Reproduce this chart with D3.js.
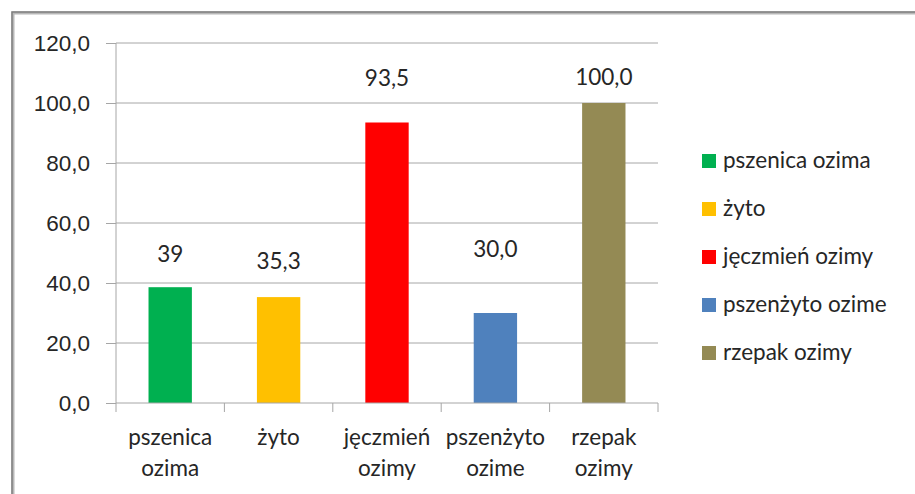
<!DOCTYPE html>
<html>
<head>
<meta charset="utf-8">
<script src="https://cdn.jsdelivr.net/npm/d3@7"></script>
<style>
  html, body { margin: 0; padding: 0; background: #fff; overflow: hidden; }
  svg { display: block; font-family: Lato, 'Open Sans', sans-serif; }
  .axis text { fill: #262626; font-size: 22.5px; }
  .axis path, .axis line { stroke: #a6a6a6; }
</style>
</head>
<body>
<div id="chart"></div>
<script>
const categories = ['pszenica ozima', 'żyto', 'jęczmień ozimy', 'pszenżyto ozime', 'rzepak ozimy'];
const values = [38.6, 35.3, 93.5, 30.0, 100.0];
const valueLabels = ['39', '35,3', '93,5', '30,0', '100,0'];
const yTicks = [0, 20, 40, 60, 80, 100, 120];
const colors = ['#00b050', '#ffc000', '#ff0000', '#4f81bd', '#948a54'];

// labels were hand-placed in the original, so each gets its own lift above the bar
const labelLift = [25, 28, 37, 56, 18];

const width = 915;
const height = 494;
const margin = { top: 43, left: 116, right: 257, bottom: 91 };
const innerWidth = width - margin.left - margin.right;
const innerHeight = height - margin.top - margin.bottom;

const svg = d3.select('#chart')
  .append('svg')
  .attr('width', width)
  .attr('height', height)
  .attr('viewBox', `0 0 ${width} ${height}`);

// frame of the chart object: only its left and top edges are in view
svg.append('path')
  .attr('d', `M13,${height} V13 H${width}`)
  .attr('fill', 'none')
  .attr('stroke', '#b8b8b8')
  .attr('stroke-width', 3);
svg.append('path')
  .attr('d', `M12,${height} V12 H${width}`)
  .attr('fill', 'none')
  .attr('stroke', '#7f7f7f')
  .attr('stroke-width', 1.5);

const g = svg.append('g')
  .attr('transform', `translate(${margin.left}, ${margin.top})`);

const x = d3.scaleBand()
  .domain(categories)
  .range([0, innerWidth])
  .paddingInner(0.6)
  .paddingOuter(0.3);

const y = d3.scaleLinear().domain([0, 120]).range([innerHeight, 0]);

const fmt = d => d.toFixed(1).replace('.', ',');

g.append('g')
  .attr('class', 'grid')
  .selectAll('line')
  .data(yTicks.filter(d => d > 0))
  .join('line')
  .attr('x1', 0)
  .attr('x2', innerWidth)
  .attr('y1', d => y(d))
  .attr('y2', d => y(d))
  .attr('stroke', '#a6a6a6');

const yAxis = g.append('g')
  .attr('class', 'axis')
  .call(d3.axisLeft(y).tickValues(yTicks).tickSize(10).tickPadding(16).tickFormat(fmt));
yAxis.select('.domain').remove();
yAxis.append('line')
  .attr('y1', 0)
  .attr('y2', innerHeight)
  .attr('stroke', '#a6a6a6');

g.selectAll('rect.bar')
  .data(values)
  .join('rect')
  .attr('class', 'bar')
  .attr('x', (d, i) => x(categories[i]))
  .attr('width', x.bandwidth())
  .attr('y', d => y(d))
  .attr('height', d => innerHeight - y(d))
  .attr('fill', (d, i) => colors[i]);

// x axis with ticks between the categories
const xAxis = g.append('g')
  .attr('class', 'axis')
  .attr('transform', `translate(0, ${innerHeight})`);
xAxis.append('line')
  .attr('x1', 0)
  .attr('x2', innerWidth)
  .attr('stroke', '#a6a6a6');
xAxis.selectAll('line.tick')
  .data(d3.range(categories.length + 1))
  .join('line')
  .attr('class', 'tick')
  .attr('x1', i => i * innerWidth / categories.length)
  .attr('x2', i => i * innerWidth / categories.length)
  .attr('y1', 0)
  .attr('y2', 9)
  .attr('stroke', '#a6a6a6');

const xLabels = xAxis.selectAll('text')
  .data(categories)
  .join('text')
  .attr('text-anchor', 'middle')
  .attr('x', d => x(d) + x.bandwidth() / 2)
  .attr('y', 42);
xLabels.selectAll('tspan')
  .data(d => d.split(' '))
  .join('tspan')
  .attr('x', function () { return this.parentNode.getAttribute('x'); })
  .attr('dy', (d, i) => (i === 0 ? 0 : 31))
  .text(d => d);

g.append('g')
  .attr('class', 'axis')
  .selectAll('text')
  .data(values)
  .join('text')
  .attr('text-anchor', 'middle')
  .attr('x', (d, i) => x(categories[i]) + x.bandwidth() / 2)
  .attr('y', (d, i) => y(d) - labelLift[i])
  .text((d, i) => valueLabels[i]);

const legend = svg.append('g')
  .attr('class', 'axis')
  .attr('transform', 'translate(702, 161)');
const items = legend.selectAll('g')
  .data(categories)
  .join('g')
  .attr('transform', (d, i) => `translate(0, ${i * 48})`);
items.append('rect')
  .attr('x', 0)
  .attr('y', -7)
  .attr('width', 14)
  .attr('height', 14)
  .attr('fill', (d, i) => colors[i]);
items.append('text')
  .attr('x', 21)
  .attr('y', 0)
  .attr('dy', '0.32em')
  .text(d => d);
</script>
</body>
</html>
